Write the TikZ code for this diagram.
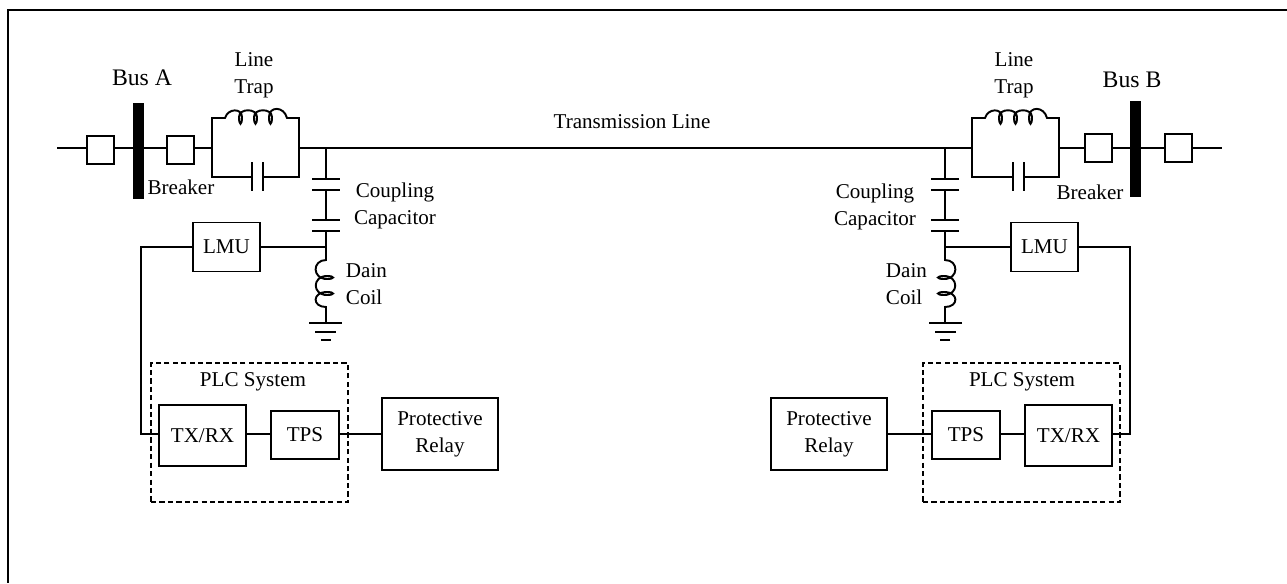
\documentclass[tikz,border=0pt]{standalone}
\usepackage{fontspec}
\setmainfont{Liberation Serif}
\usetikzlibrary{positioning}

\begin{document}
\begin{tikzpicture}[x=0.02cm, y=-0.02cm, line width=1.1pt,
    box/.style={rectangle, draw, inner sep=0pt, align=center, font=\fontsize{12}{15.5}\selectfont},
    breaker/.style={box, minimum width=0.54cm, minimum height=0.56cm},
    lmu/.style={box, minimum width=1.34cm, minimum height=0.98cm},
    txrx/.style={box, minimum width=1.74cm, minimum height=1.22cm},
    tps/.style={box, minimum width=1.36cm, minimum height=0.96cm},
    relay/.style={box, minimum width=2.32cm, minimum height=1.44cm},
    label/.style={inner sep=0pt, align=center, font=\fontsize{12}{15.5}\selectfont},
    sidelabel/.style={label, align=left, anchor=west},
    buslabel/.style={inner sep=0pt, font=\fontsize{13.5}{16}\selectfont},
    busbar/.style={draw, fill=black, inner sep=0pt, minimum width=0.18cm, minimum height=1.88cm},
    plc/.style={draw, dashed, dash pattern=on 3pt off 1.8pt, inner sep=0pt, minimum width=3.94cm, minimum height=2.78cm}
]
\useasboundingbox (0,0) rectangle (1287,583);

% frame, open on two sides
\coordinate (frametop) at (1287,10);
\coordinate (framecorner) at (8,10);
\coordinate (framebot) at (8,583);
\draw[line width=1.3pt] (frametop) -- (framecorner) -- (framebot);

% left side
\node[busbar] (busa) at (138.5,151) {};
\node[breaker] (brk1) at (100.5,150) {};
\node[breaker] (brk2) at (180.5,150) {};
\coordinate (linea) at (57,148);
\coordinate (trapaw) at (212,148);
\coordinate (trapae) at (299,148);
\node[lmu] (lmua) at (226.5,247) {LMU};
\node[plc] (plca) at (249.5,432.5) {};
\node[txrx] (txa) at (202.5,435.5) {TX/RX};
\node[tps] (tpsa) at (305,435) {TPS};
\node[relay] (relaya) at (440,434) {Protective\\Relay};
\coordinate (nodea) at (326,247);
\coordinate (turna) at (141,247);
\coordinate (turnb) at (141,434);

% right side
\node[busbar] (busb) at (1135.5,149) {};
\node[breaker] (brk3) at (1098.5,148) {};
\node[breaker] (brk4) at (1178.5,148) {};
\coordinate (lineb) at (1222,148);
\coordinate (trapbw) at (972,148);
\coordinate (trapbe) at (1060,148);
\node[lmu] (lmub) at (1044.5,247) {LMU};
\node[plc] (plcb) at (1021.5,432.5) {};
\node[txrx] (txb) at (1068.5,435.5) {TX/RX};
\node[tps] (tpsb) at (966,435) {TPS};
\node[relay] (relayb) at (829,434) {Protective\\Relay};
\coordinate (nodeb) at (945,247);
\coordinate (turnc) at (1130,247);
\coordinate (turnd) at (1130,434);

% main line
\draw (linea) -- (brk1.west |- linea);
\draw (brk1.east |- linea) -- (brk2.west |- linea);
\draw (brk2.east |- linea) -- (trapaw);
\draw (trapae) -- (trapbw);
\draw (trapbe) -- (brk3);
\draw (brk3) -- (brk4);
\draw (brk4) -- (lineb);

% line traps
\foreach \ox/\gap in {212/40, 972/41} {
  \begin{scope}[xshift=\ox*0.02cm]
    \draw (0,148) -- (0,118) -- (13,118)
      .. controls (16,108) and (30,108) .. (30,117)
      .. controls (30,126) and (27,126) .. (27,117)
      .. controls (27,108) and (45,108) .. (45,117)
      .. controls (45,126) and (42,126) .. (42,117)
      .. controls (42,108) and (60,108) .. (60,117)
      .. controls (60,126) and (57,126) .. (57,117)
      .. controls (57,106) and (72,106) .. (75,118)
      -- (87,118) -- (87,177) -- (\gap+11,177);
    \draw (0,148) -- (0,177) -- (\gap,177);
    \draw (\gap,162) -- (\gap,191);
    \draw (\gap+11,162) -- (\gap+11,191);
  \end{scope}
}

% coupling capacitors, drain coils, grounds
\foreach \ox/\sx in {326/1, 945/-1} {
  \begin{scope}[xshift=\ox*0.02cm, xscale=\sx]
    \draw (0,148) -- (0,179);
    \draw (-14,179) -- (14,179);
    \draw (-14,190) -- (14,190);
    \draw (0,190) -- (0,220);
    \draw (-14,220) -- (14,220);
    \draw (-14,231) -- (14,231);
    \draw (0,231) -- (0,260)
      .. controls (-14,260) and (-14,279) .. (1,279)
      .. controls (9,279) and (9,276) .. (1,276)
      .. controls (-14,276) and (-14,295) .. (1,295)
      .. controls (9,295) and (9,292) .. (1,292)
      .. controls (-14,292) and (-14,307) .. (0,307)
      -- (0,323);
    \draw (-17,323) -- (16,323);
    \draw (-11,332) -- (10,332);
    \draw (-5,340) -- (5,340);
  \end{scope}
}

% signal path
\draw (nodea) -- (lmua);
\draw (lmua) -- (turna) -- (turnb) -- (txa.west |- turnb);
\draw (txa.east |- turnb) -- (tpsa.west |- turnb);
\draw (tpsa.east |- turnb) -- (relaya.west |- turnb);
\draw (nodeb) -- (lmub);
\draw (lmub) -- (turnc) -- (turnd) -- (txb.east |- turnd);
\draw (txb.west |- turnd) -- (tpsb.east |- turnd);
\draw (tpsb.west |- turnd) -- (relayb.east |- turnd);

% labels
\node[buslabel] (lbusa) at (142,78) {Bus A};
\node[buslabel] (lbusb) at (1132,80) {Bus B};
\node[label] (ltrapa) at (254,75) {Line\\Trap};
\node[label] (ltrapb) at (1014,75) {Line\\Trap};
\node[label] (lbrka) at (181,187) {Breaker};
\node[label] (lbrkb) at (1090,192) {Breaker};
\node[label] (lline) at (632,122) {Transmission Line};
\node[label] (lcapa) at (395,206) {Coupling\\Capacitor};
\node[label] (lcapb) at (875,207) {Coupling\\Capacitor};
\node[sidelabel] (lcoila) at (345,284) {Dain\\Coil};
\node[sidelabel] (lcoilb) at (885,284) {Dain\\Coil};
\node[label] (lplca) at (253,382) {PLC System};
\node[label] (lplcb) at (1022,382) {PLC System};
\end{tikzpicture}
\end{document}
